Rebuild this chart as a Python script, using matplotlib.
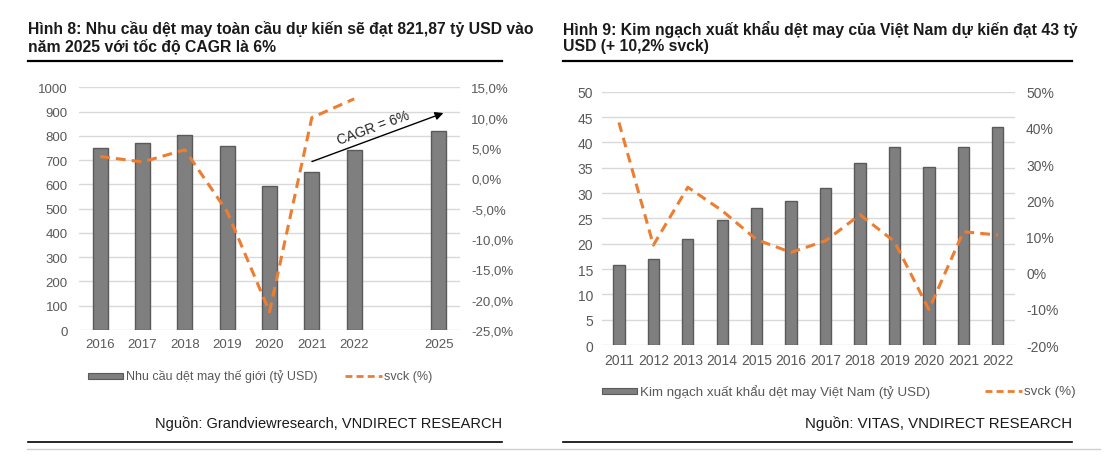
"""Two combo charts: textile demand and Vietnam textile exports."""

import matplotlib.pyplot as plt
from matplotlib.lines import Line2D
from matplotlib.ticker import FuncFormatter

plt.rcParams["font.family"] = ["Liberation Sans", "DejaVu Sans"]

# Hình 8 data
years_8 = ["2016", "2017", "2018", "2019", "2020", "2021", "2022", "", "2025"]
demand_8 = [750, 769, 803, 760, 595, 652, 742, None, 821.87]
growth_8 = [3.6, 2.7, 4.7, -5.5, -22.0, 10.0, 13.1]

# Hình 9 data
years_9 = ["2011", "2012", "2013", "2014", "2015", "2016",
           "2017", "2018", "2019", "2020", "2021", "2022"]
export_9 = [15.8, 17.0, 21.0, 24.7, 27.0, 28.5, 31.0, 36.0, 39.0, 35.1, 39.0, 43.0]
growth_9 = [41.5, 7.6, 23.6, 17.1, 9.1, 5.6, 8.8, 16.0, 8.6, -10.2, 11.3, 10.4]

BAR = "#7f7f7f"
BAR_EDGE = "#5a5a5a"
ORANGE = "#ED7D31"
TICK = "#595959"
GRID = "#d9d9d9"
W, H = 1109, 464


def px(x, y):
    return x / W, 1 - y / H


def style_axes(ax, ax2, fs):
    for a in (ax, ax2):
        for s in a.spines.values():
            s.set_visible(False)
        a.tick_params(length=0, colors=TICK, labelsize=fs)
    ax.grid(axis="y", color=GRID, lw=1)
    ax.set_axisbelow(True)


def combo(rect, cats, bars, line, ylim, yticks, y2lim, y2ticks, y2fmt,
          width, fs, pad_l, pad_r):
    ax = fig.add_axes(rect)
    ax2 = ax.twinx()
    xs = [i for i, v in enumerate(bars) if v is not None]
    ax.bar(xs, [bars[i] for i in xs], width=width, color=BAR,
           edgecolor=BAR_EDGE, linewidth=1, zorder=2)
    ax2.plot(range(len(line)), line, color=ORANGE, lw=2.2, dashes=(3.2, 2))
    ax.set_xlim(-0.5, len(cats) - 0.5)
    ax.set_xticks(range(len(cats)))
    ax.set_xticklabels(cats)
    ax.set_ylim(*ylim)
    ax.set_yticks(yticks)
    ax2.set_ylim(*y2lim)
    ax2.set_yticks(y2ticks)
    ax2.yaxis.set_major_formatter(FuncFormatter(y2fmt))
    style_axes(ax, ax2, fs)
    ax.tick_params(axis="y", pad=pad_l)
    ax2.tick_params(axis="y", pad=pad_r)
    ax.tick_params(axis="x", pad=6)
    return ax, ax2


fig = plt.figure(figsize=(W / 100, H / 100), dpi=100)

# ---- Hình 8 ----
l, t = px(79, 88.3)
r, b = px(460, 331)
ax8, ax8r = combo([l, b, r - l, t - b], years_8, demand_8, growth_8,
                  (0, 1000), range(0, 1001, 100), (-25, 15), range(-25, 16, 5),
                  lambda v, p: f"{v:.1f}%".replace(".", ","), 0.35, 9.5, 8, 8)
ax8.annotate("", xy=(8.17, 898), xytext=(4.94, 690),
             arrowprops=dict(arrowstyle="-|>", color="black", lw=1,
                             mutation_scale=12))
ax8.text(6.45, 834, "CAGR = 6%", rotation=20, ha="center", va="center",
         fontsize=10, color="#262626")

# ---- Hình 9 ----
l, t = px(601.7, 92.7)
r, b = px(1015, 346)
ax9, ax9r = combo([l, b, r - l, t - b], years_9, export_9, growth_9,
                  (0, 50), range(0, 51, 5), (-20, 50), range(-20, 51, 10),
                  lambda v, p: f"{v:.0f}%", 0.33, 10, 6, 8)

# titles
title_kw = dict(fontsize=11.3, fontweight="bold", color="#1a1a1a", va="top",
                linespacing=1.12)
fig.text(*px(28, 21), "Hình 8: Nhu cầu dệt may toàn cầu dự kiến sẽ đạt 821,87 tỷ USD vào\n"
         "năm 2025 với tốc độ CAGR là 6%", **title_kw)
fig.text(*px(563, 21), "Hình 9: Kim ngạch xuất khẩu dệt may của Việt Nam dự kiến đạt 43 tỷ\n"
         "USD (+ 10,2% svck)", **title_kw)

# rules
for x0, x1 in ((28, 502), (563, 1072)):
    fig.add_artist(Line2D([px(x0, 0)[0], px(x1, 0)[0]], [px(0, 62)[1]] * 2,
                          color="black", lw=1.6))
    fig.add_artist(Line2D([px(x0, 0)[0], px(x1, 0)[0]], [px(0, 443)[1]] * 2,
                          color="black", lw=1.2))
fig.add_artist(Line2D([px(27, 0)[0], px(1100, 0)[0]], [px(0, 450)[1]] * 2,
                      color="#d0d0d0", lw=1))


def legend(x_patch, y, label1, x_line, label2, fs):
    fx, fy = px(x_patch, y)
    fig.patches.append(plt.Rectangle((fx, fy - 3 / H), 35 / W, 6 / H,
                                     transform=fig.transFigure, facecolor=BAR,
                                     edgecolor=BAR_EDGE, lw=0.8))
    fig.text(fx + 38 / W, fy, label1, fontsize=fs, color=TICK, va="center")
    lx, ly = px(x_line, y)
    fig.add_artist(Line2D([lx, lx + 37 / W], [ly, ly], color=ORANGE, lw=2,
                          dashes=(2.5, 1.5)))
    fig.text(lx + 39 / W, ly, label2, fontsize=fs, color=TICK, va="center")


legend(88, 377, "Nhu cầu dệt may thế giới (tỷ USD)", 345, "svck (%)", 9)
legend(602, 392, "Kim ngạch xuất khẩu dệt may Việt Nam (tỷ USD)", 985, "svck (%)", 9.6)

# sources
fig.text(*px(502, 424), "Nguồn: Grandviewresearch, VNDIRECT RESEARCH",
         fontsize=10.5, color="#1a1a1a", ha="right", va="center")
fig.text(*px(1072, 424), "Nguồn: VITAS, VNDIRECT RESEARCH",
         fontsize=10.8, color="#1a1a1a", ha="right", va="center")

fig.savefig("out.png", dpi=100)
